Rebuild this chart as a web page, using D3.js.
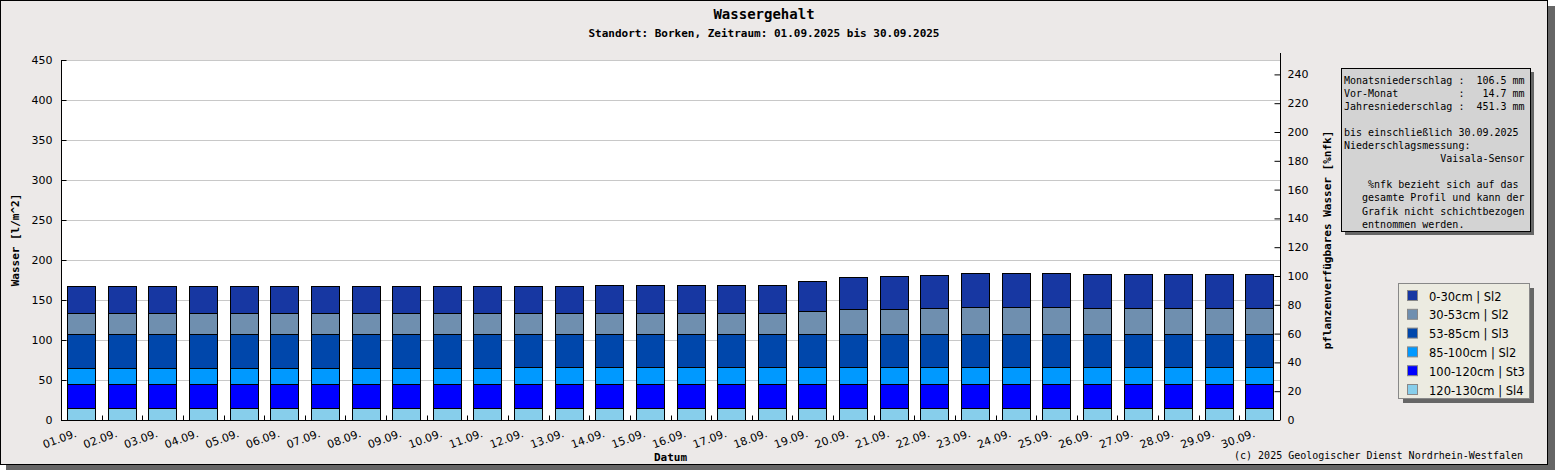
<!DOCTYPE html>
<html>
<head>
<meta charset="utf-8">
<script src="https://cdnjs.cloudflare.com/ajax/libs/d3/7.8.5/d3.min.js"></script>
<style>
  body { margin: 0; background: #fff; }
  svg text { fill: #000; }
  .mono { font-family: "DejaVu Sans Mono", "Liberation Mono", monospace; }
  .sans { font-family: "DejaVu Sans", sans-serif; font-size: 11px; }
</style>
</head>
<body>
<div id="chart"></div>
<script>
var width = 1555, height = 470;

// tick labels (x)
var days = ["01.09.", "02.09.", "03.09.", "04.09.", "05.09.", "06.09.", "07.09.", "08.09.", "09.09.", "10.09.",
            "11.09.", "12.09.", "13.09.", "14.09.", "15.09.", "16.09.", "17.09.", "18.09.", "19.09.", "20.09.",
            "21.09.", "22.09.", "23.09.", "24.09.", "25.09.", "26.09.", "27.09.", "28.09.", "29.09.", "30.09."];

// layer names, bottom to top
var layerNames = ["120-130cm | Sl4", "100-120cm | St3", "85-100cm | Sl2", "53-85cm | Sl3", "30-53cm | Sl2", "0-30cm | Sl2"];
var layerColors = ["#87ceeb", "#0000ff", "#0099ff", "#0047ab", "#6f8faf", "#1737a2"];

// water per layer [l/m^2], one value per day
var l120_130 = [14.6, 14.6, 14.6, 14.6, 14.6, 14.6, 14.6, 14.6, 14.6, 14.6, 14.6, 14.6, 14.6, 14.6, 14.6,
                14.6, 14.6, 14.6, 14.6, 14.6, 14.6, 14.6, 14.6, 14.6, 14.6, 14.6, 14.6, 14.6, 14.6, 14.6];
var l100_120 = [30, 30, 30, 30, 30, 30, 30, 30, 30, 30, 30, 30, 30, 30, 30,
                30, 30, 30, 30, 30, 30, 30, 30, 30, 30, 30, 30, 30, 30, 30];
var l85_100 = [20, 20, 20, 20, 20, 20, 20, 20, 20, 20, 20, 21.4, 21.4, 21.4, 21.4,
               21.4, 21.4, 21.4, 21.4, 21.4, 21.4, 21.4, 21.4, 21.4, 21.4, 21.4, 21.4, 21.4, 21.4, 21.4];
var l53_85 = [42.4, 42.4, 42.4, 42.4, 42.4, 42.4, 42.4, 42.4, 42.4, 42.4, 42.4, 41, 41, 41, 41,
              41, 41, 41, 41, 41, 41, 41, 41, 41, 41, 41, 41, 41, 41, 41];
var l30_53 = [26.3, 26.3, 26.3, 26.3, 26.3, 26.3, 26.3, 26.3, 26.3, 26.3, 26.3, 26.3, 26.3, 26.3, 26.3,
              26.3, 26.3, 26.3, 28.8, 31.3, 31.3, 32.6, 33.8, 33.8, 33.8, 32.6, 32.6, 32.6, 32.6, 32.6];
var l0_30 = [34.2, 34.2, 34.2, 34.2, 34.2, 34.2, 34.2, 34.2, 34.2, 34.2, 34.2, 34.2, 34.2, 35, 35,
             35, 35, 35, 37.5, 40, 41.7, 41.7, 42.5, 42.5, 42.5, 42.4, 42.4, 42.4, 42.4, 42.4];
var layers = [l120_130, l100_120, l85_100, l53_85, l30_53, l0_30];

// axis ticks
var leftTicks = [0, 50, 100, 150, 200, 250, 300, 350, 400, 450];
var rightTicks = [0, 20, 40, 60, 80, 100, 120, 140, 160, 180, 200, 220, 240];

var infoLines = [
  "Monatsniederschlag :  106.5 mm",
  "Vor-Monat          :   14.7 mm",
  "Jahresniederschlag :  451.3 mm",
  "",
  "bis einschließlich 30.09.2025",
  "Niederschlagsmessung:",
  "                Vaisala-Sensor",
  "",
  "    %nfk bezieht sich auf das",
  "   gesamte Profil und kann der",
  "   Grafik nicht schichtbezogen",
  "   entnommen werden."
];

var plot = {left: 61, right: 1280, top: 60, bottom: 420};

var svg = d3.select("#chart").append("svg").attr("width", width).attr("height", height);

// frame with shadow
svg.append("rect").attr("x", 6).attr("y", 6).attr("width", 1549).attr("height", 464).attr("fill", "#666");
svg.append("rect").attr("x", 0.5).attr("y", 0.5).attr("width", 1547).attr("height", 464)
  .attr("fill", "#ece9e8").attr("stroke", "#000");

// plot background
svg.append("rect").attr("x", plot.left).attr("y", plot.top)
  .attr("width", plot.right - plot.left).attr("height", plot.bottom - plot.top).attr("fill", "#fff");

var x = d3.scaleBand().domain(days).range([plot.left, plot.right]).paddingInner(0.3).paddingOuter(0.15);
var y = d3.scaleLinear().domain([0, 450]).range([plot.bottom, plot.top]);
var y2 = d3.scaleLinear().domain([0, 250]).range([plot.bottom, plot.top]);

// grid
svg.append("g").selectAll("line").data(leftTicks.slice(1)).enter().append("line")
  .attr("x1", plot.left).attr("x2", plot.right)
  .attr("y1", function(d) { return y(d) + 0.5; }).attr("y2", function(d) { return y(d) + 0.5; })
  .attr("stroke", "#c8c8c8");

// stacked bars
var stackData = days.map(function(d, i) {
  var row = {day: d};
  layers.forEach(function(l, j) { row["k" + j] = l[i]; });
  return row;
});
var stack = d3.stack().keys(layers.map(function(l, j) { return "k" + j; }));
var series = stack(stackData);

svg.append("g").selectAll("g").data(series).enter().append("g")
  .attr("fill", function(s, j) { return layerColors[j]; })
  .selectAll("rect").data(function(s) { return s; }).enter().append("rect")
  .attr("x", function(d) { return Math.round(x(d.data.day)) + 0.5; })
  .attr("width", Math.round(x.bandwidth()))
  .attr("y", function(d) { return Math.round(y(d[1])) + 0.5; })
  .attr("height", function(d) { return Math.round(y(d[0])) - Math.round(y(d[1])); })
  .attr("stroke", "#000").attr("stroke-width", 1);

// left axis
var gl = svg.append("g").attr("transform", "translate(" + (plot.left + 0.5) + ",0)");
gl.call(d3.axisLeft(y).tickValues(d3.range(0, 451, 10)).tickFormat("").tickSizeInner(-3).tickSizeOuter(0));
gl.call(d3.axisLeft(y).tickValues(leftTicks).tickSizeInner(-5).tickSizeOuter(0).tickPadding(9));
gl.selectAll("text").attr("class", "sans");

// right axis
var gr = svg.append("g").attr("transform", "translate(" + (plot.right + 0.5) + ",0)");
gr.call(d3.axisRight(y2).tickValues(d3.range(0, 250, 10)).tickFormat("").tickSizeInner(-3).tickSizeOuter(0));
gr.call(d3.axisRight(y2).tickValues(rightTicks).tickSizeInner(-6).tickSizeOuter(0).tickPadding(7));
gr.selectAll("path.domain").attr("d", "M0," + plot.bottom + "V" + (plot.top - 7));
gl.selectAll("path.domain").attr("d", "M0," + plot.bottom + "V" + plot.top);
gr.selectAll("text").attr("class", "sans");

// bottom axis
var gb = svg.append("g").attr("transform", "translate(0," + (plot.bottom + 0.5) + ")");
gb.append("line").attr("x1", plot.left).attr("x2", plot.right).attr("stroke", "#000");
gb.selectAll("line.tk").data(days.slice(1)).enter().append("line").attr("class", "tk")
  .attr("x1", function(d) { return Math.round(x(d) - x.step() * x.paddingInner() / 2) + 0.5; })
  .attr("x2", function(d) { return Math.round(x(d) - x.step() * x.paddingInner() / 2) + 0.5; })
  .attr("y1", 0).attr("y2", -5).attr("stroke", "#000");
gb.selectAll("text").data(days).enter().append("text").attr("class", "sans")
  .attr("text-anchor", "end")
  .attr("transform", function(d) { return "translate(" + (x(d) + x.bandwidth() / 2 - 4) + ",16) rotate(-20)"; })
  .text(function(d) { return d; });

// titles
svg.append("text").attr("class", "mono").attr("x", 764).attr("y", 19).attr("text-anchor", "middle")
  .style("font-size", "14px").style("font-weight", "bold").text("Wassergehalt");
svg.append("text").attr("class", "mono").attr("x", 764).attr("y", 37).attr("text-anchor", "middle")
  .style("font-size", "11px").style("font-weight", "bold")
  .text("Standort: Borken, Zeitraum: 01.09.2025 bis 30.09.2025");
svg.append("text").attr("class", "mono").attr("x", (plot.left + plot.right) / 2).attr("y", 461)
  .attr("text-anchor", "middle").style("font-size", "11px").style("font-weight", "bold").text("Datum");
svg.append("text").attr("class", "mono").attr("transform", "translate(19,240) rotate(-90)")
  .attr("text-anchor", "middle").style("font-size", "11px").style("font-weight", "bold").text("Wasser [l/m^2]");
svg.append("text").attr("class", "mono").attr("transform", "translate(1331,240) rotate(-90)")
  .attr("text-anchor", "middle").style("font-size", "11px").style("font-weight", "bold")
  .text("pflanzenverfügbares Wasser [%nfk]");
svg.append("text").attr("class", "mono").attr("x", 1523).attr("y", 459).attr("text-anchor", "end")
  .style("font-size", "10px").text("(c) 2025 Geologischer Dienst Nordrhein-Westfalen");

// info box
var info = svg.append("g").attr("transform", "translate(1341,68)");
info.append("rect").attr("x", 4).attr("y", 4).attr("width", 189).attr("height", 163).attr("fill", "#666");
info.append("rect").attr("x", 0.5).attr("y", 0.5).attr("width", 189).attr("height", 163)
  .attr("fill", "#d3d3d3").attr("stroke", "#000");
info.selectAll("text").data(infoLines).enter().append("text").attr("class", "mono")
  .attr("x", 3).attr("y", function(d, i) { return 15.5 + i * 13.1; })
  .style("font-size", "10px").style("white-space", "pre")
  .text(function(d) { return d; });

// legend
var lg = svg.append("g").attr("transform", "translate(1398,283)");
lg.append("rect").attr("x", 5).attr("y", 5).attr("width", 131).attr("height", 115).attr("fill", "#666");
lg.append("rect").attr("x", 0.5).attr("y", 0.5).attr("width", 131).attr("height", 115)
  .attr("fill", "#ecebe1").attr("stroke", "#888");
var legendOrder = d3.range(layers.length).reverse();
var li = lg.selectAll("g.item").data(legendOrder).enter().append("g").attr("class", "item")
  .attr("transform", function(d, i) { return "translate(0," + (13 + i * 18.8) + ")"; });
li.append("rect").attr("x", 9.5).attr("y", -5.5).attr("width", 10).attr("height", 10)
  .attr("fill", function(d) { return layerColors[d]; }).attr("stroke", "#888");
li.append("text").attr("x", 31).attr("y", 4.5).style("font-family", "DejaVu Sans, sans-serif")
  .style("font-size", "11.5px").text(function(d) { return layerNames[d]; });
</script>
</body>
</html>
